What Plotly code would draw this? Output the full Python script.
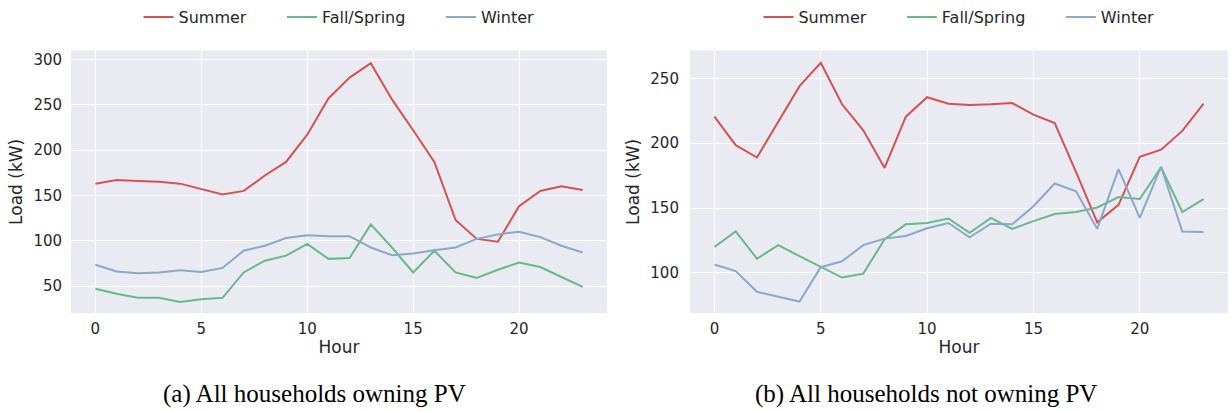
import plotly.graph_objects as go

hours = list(range(24))

# (a) households owning PV
pv_summer = [163, 167, 166, 165, 163, 157, 151, 155, 172, 187, 217, 257, 280, 296, 256, 222, 187, 123, 102, 99, 138, 155, 160, 156]
pv_fall = [47, 41.5, 37, 37, 32.5, 35.5, 37, 65, 78, 83.5, 96.5, 80, 81, 118, 92.5, 65, 89, 65, 59, 68, 76, 71, 60, 49]
pv_winter = [73.5, 66, 64, 65, 67.5, 65.5, 70, 89, 94.5, 103, 106, 105, 105, 92.5, 84, 86, 89.5, 92.5, 102, 107, 110, 104, 94.5, 87]

# (b) households not owning PV
npv_summer = [220.5, 198.5, 189, 216, 244, 262, 230, 210, 181, 220.5, 235.5, 230.5, 229.5, 230, 231, 222, 215.5, 178, 139, 152.5, 189.5, 195, 209.5, 230.5]
npv_fall = [120, 132, 111, 121.5, 113, 104.5, 96.5, 99.5, 126, 137.5, 138.5, 142, 131, 142.5, 134, 140, 145.5, 147, 150.5, 158.5, 157, 181.5, 147, 157]
npv_winter = [106.5, 101.5, 85.5, 81.5, 78, 104.5, 109, 121.5, 126.5, 128.5, 134.5, 138.5, 127.5, 138, 137.5, 151.5, 169, 163, 134, 180, 142.5, 182, 132, 131.5]

series_names = ["Summer", "Fall/Spring", "Winter"]
legend_pad = ["\u00a0" * 6, "\u00a0" * 6, ""]
colors = ["#d65151", "#66bb85", "#88a8cc"]

FONT = "DejaVu Sans"
TXT = "#262626"

fig = go.Figure()

for vals, name, pad, col in zip([pv_summer, pv_fall, pv_winter], series_names, legend_pad, colors):
    fig.add_trace(go.Scatter(x=hours, y=vals, mode="lines", name=name + pad,
                             line=dict(color=col, width=2), xaxis="x", yaxis="y",
                             legend="legend"))
for vals, name, pad, col in zip([npv_summer, npv_fall, npv_winter], series_names, legend_pad, colors):
    fig.add_trace(go.Scatter(x=hours, y=vals, mode="lines", name=name + pad,
                             line=dict(color=col, width=2), xaxis="x2", yaxis="y2",
                             legend="legend2"))

ydom = [0.2427, 0.8883]
axis_common = dict(showgrid=True, gridcolor="white", gridwidth=1, zeroline=False,
                   showline=False, ticks="", tickfont=dict(family=FONT, size=15, color=TXT),
                   title_font=dict(family=FONT, size=17, color=TXT))

fig.update_layout(
    width=1231, height=412,
    margin=dict(l=0, r=0, t=0, b=0),
    paper_bgcolor="white", plot_bgcolor="#eaeaf2",
    font=dict(family=FONT, color=TXT),
    xaxis=dict(domain=[0.0577, 0.4931], range=[-1.15, 24.15], tickvals=[0, 5, 10, 15, 20],
               anchor="y", ticklabelstandoff=5, title=dict(text="Hour", standoff=3), **axis_common),
    yaxis=dict(domain=ydom, range=[20, 310], tickvals=[50, 100, 150, 200, 250, 300],
               anchor="x", ticklabelstandoff=8, title=dict(text="Load (kW)", standoff=6), **axis_common),
    xaxis2=dict(domain=[0.5605, 0.9976], range=[-1.15, 24.15], tickvals=[0, 5, 10, 15, 20],
                anchor="y2", ticklabelstandoff=5, title=dict(text="Hour", standoff=3), **axis_common),
    yaxis2=dict(domain=ydom, range=[69, 271.5], tickvals=[100, 150, 200, 250],
                anchor="x2", ticklabelstandoff=10, title=dict(text="Load (kW)", standoff=6), **axis_common),
    legend=dict(orientation="h", x=0.2754, xanchor="center", y=0.97, yanchor="middle",
                font=dict(family=FONT, size=16, color=TXT), bgcolor="rgba(0,0,0,0)"),
    legend2=dict(orientation="h", x=0.779, xanchor="center", y=0.97, yanchor="middle",
                 font=dict(family=FONT, size=16, color=TXT), bgcolor="rgba(0,0,0,0)"),
    annotations=[
        dict(text="(a) All households owning PV", x=0.2554, y=(412 - 394) / 412,
             xref="paper", yref="paper", xanchor="center", yanchor="middle", showarrow=False,
             font=dict(family="Liberation Serif", size=25, color="black")),
        dict(text="(b) All households not owning PV", x=0.7522, y=(412 - 394) / 412,
             xref="paper", yref="paper", xanchor="center", yanchor="middle", showarrow=False,
             font=dict(family="Liberation Serif", size=25, color="black")),
    ],
)

fig.write_html("out.html")
